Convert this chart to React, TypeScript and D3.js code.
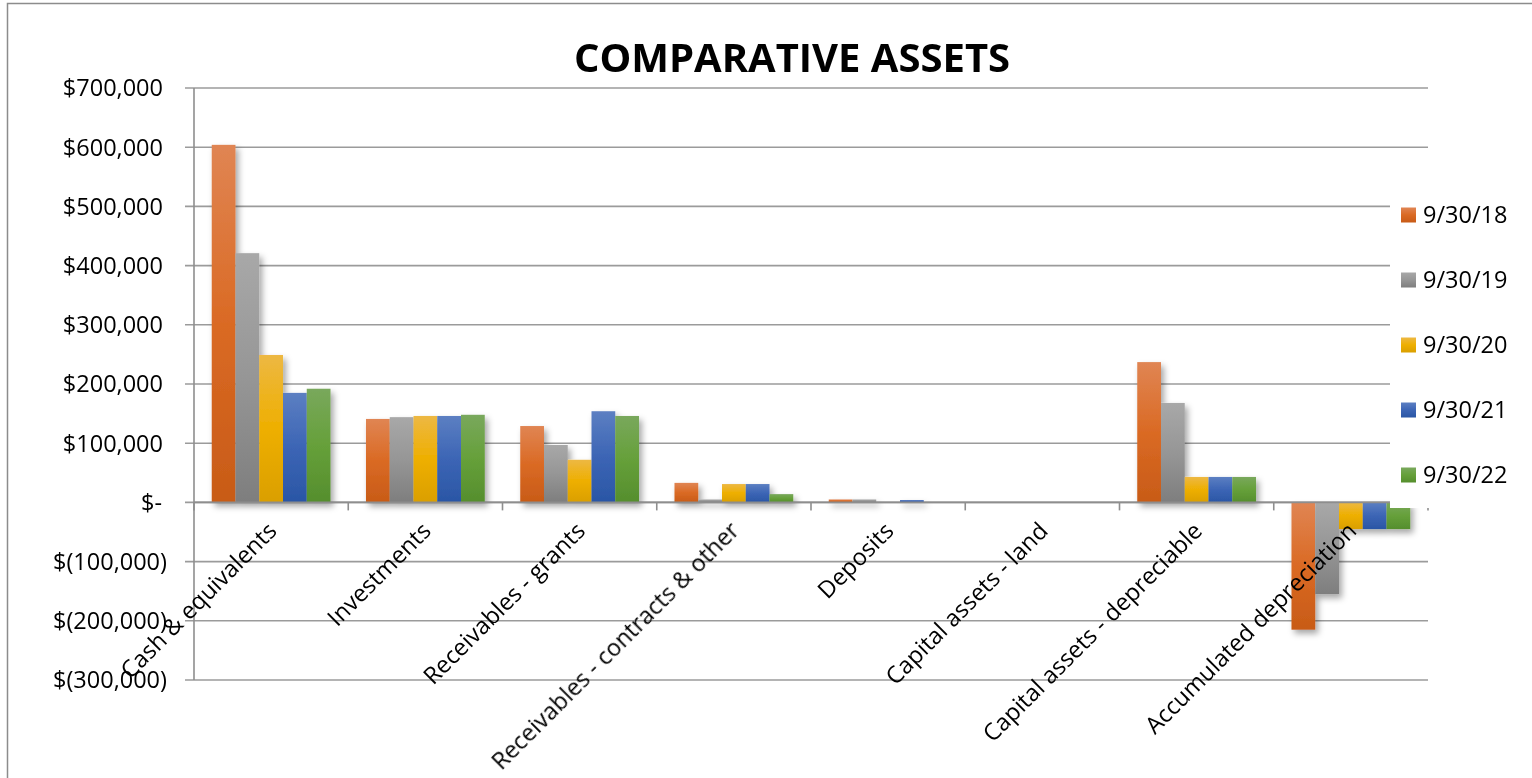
import React from "react";
import * as d3 from "d3";

const categories = [
  "Cash & equivalents",
  "Investments",
  "Receivables - grants",
  "Receivables - contracts & other",
  "Deposits",
  "Capital assets - land",
  "Capital assets - depreciable",
  "Accumulated depreciation",
];
const seriesNames = ["9/30/18", "9/30/19", "9/30/20", "9/30/21", "9/30/22"];
const s18 = [604000, 141000, 129000, 33000, 5000, 0, 237000, -215000];
const s19 = [421000, 144000, 97000, 5000, 5000, 0, 168000, -155000];
const s20 = [249000, 146000, 72000, 31000, 0, 0, 43000, -45000];
const s21 = [185000, 146000, 154000, 31000, 4000, 0, 43000, -45000];
const s22 = [192000, 148000, 146000, 14000, 0, 0, 43000, -45000];
const seriesValues = [s18, s19, s20, s21, s22];
const yTicks = [700000, 600000, 500000, 400000, 300000, 200000, 100000, 0, -100000, -200000, -300000];

const gradients = [
  ["#E08553", "#DA6A24", "#C85B17"],
  ["#A8A8A8", "#969696", "#7E7E7E"],
  ["#EDB843", "#EEAF00", "#DA9F00"],
  ["#5C7FC2", "#3C65B5", "#2A56A5"],
  ["#79A85C", "#66A03A", "#558E2D"],
];

const FONT = "'Open Sans', 'DejaVu Sans', sans-serif";

export default function App() {
  const W = 1532;
  const H = 778;
  const left = 194;
  const right = 1428;
  const top = 88;
  const bottom = 680;

  const y = d3.scaleLinear().domain([-300000, 700000]).range([bottom, top]);
  const x0 = d3.scaleBand<string>().domain(categories).range([left, right]).padding(0);
  const bw = x0.bandwidth();
  const gap = bw * 0.115;
  const x1 = d3.scaleBand<string>().domain(seriesNames).range([gap, bw - gap]).padding(0);
  const fmt = d3.format(",");
  const tickLabel = (d: number) =>
    d === 0 ? "$-" : d < 0 ? `$(${fmt(-d)})` : `$${fmt(d)}`;
  const y0 = y(0);

  return (
    <div style={{ position: "fixed", left: 0, top: 0, width: W, height: H, background: "#fff" }}>
      <svg width={W} height={H} style={{ display: "block" }} fontFamily={FONT}>
        <defs>
          {gradients.map((g, i) => (
            <linearGradient key={i} id={`grad${i}`} x1="0" y1="0" x2="0" y2="1">
              <stop offset="0%" stopColor={g[0]} />
              <stop offset="50%" stopColor={g[1]} />
              <stop offset="100%" stopColor={g[2]} />
            </linearGradient>
          ))}
          <filter id="shadow" x="-30%" y="-30%" width="160%" height="160%">
            <feDropShadow dx="3" dy="4" stdDeviation="3" floodColor="#000" floodOpacity="0.35" />
          </filter>
        </defs>
        <rect x={0} y={0} width={W} height={H} fill="#fff" />
        <rect x={7.5} y={3.5} width={W + 20} height={H + 20} fill="none" stroke="#8c8c8c" strokeWidth={1.5} />

        {/* gridlines */}
        {yTicks.map((t) => (
          <line key={t} x1={left - 9} x2={right} y1={y(t)} y2={y(t)} stroke="#9b9b9b" strokeWidth={1.6} />
        ))}
        {/* y axis */}
        <line x1={left} x2={left} y1={top} y2={bottom} stroke="#8e8e8e" strokeWidth={1.6} />

        {/* bars */}
        <g filter="url(#shadow)">
          {categories.map((c, ci) => (
            <g key={c} transform={`translate(${x0(c)},0)`}>
              {seriesNames.map((s, si) => {
                const v = seriesValues[si][ci];
                if (v === 0) return null;
                const yy = Math.min(y(v), y0);
                const h = Math.abs(y(v) - y0);
                return (
                  <rect key={s} x={x1(s)} y={yy} width={x1.bandwidth()} height={h} fill={`url(#grad${si})`} />
                );
              })}
            </g>
          ))}
        </g>

        {/* x axis */}
        <line x1={left} x2={right} y1={y0} y2={y0} stroke="#8e8e8e" strokeWidth={1.6} />
        {categories.map((c) => (
          <line key={c} x1={x0(c)!} x2={x0(c)!} y1={y0} y2={y0 + 8} stroke="#8e8e8e" strokeWidth={1.6} />
        ))}
        <line x1={right} x2={right} y1={y0} y2={y0 + 8} stroke="#8e8e8e" strokeWidth={1.6} />

        {/* y tick labels */}
        {yTicks.map((t) => (
          <text
            key={t}
            x={t < 0 ? 167 : t === 0 ? 162 : 163}
            y={y(t)}
            dy="0.36em"
            textAnchor="end"
            fontSize={23.5}
            fill="#000"
          >
            {tickLabel(t)}
          </text>
        ))}

        {/* category labels */}
        {categories.map((c) => {
          const cx = x0(c)! + bw / 2;
          return (
            <text
              key={c}
              transform={`translate(${cx + 1},${y0 + 24}) rotate(-45)`}
              textAnchor="end"
              dy="0.36em"
              fontSize={23.5}
              fill="#000"
            >
              {c}
            </text>
          );
        })}

        {/* title */}
        <text x={792} y={72} textAnchor="middle" fontSize={40} fontWeight="bold" fill="#000">
          COMPARATIVE ASSETS
        </text>

        {/* legend */}
        <rect x={1390} y={170} width={142} height={338} fill="#fff" />
        {seriesNames.map((s, i) => {
          const cy = 215 + i * 65;
          return (
            <g key={s}>
              <rect x={1401} y={cy - 7.5} width={15} height={15} fill={`url(#grad${i})`} />
              <text x={1423} y={cy} dy="0.36em" fontSize={23.5} fill="#000">
                {s}
              </text>
            </g>
          );
        })}
      </svg>
    </div>
  );
}
